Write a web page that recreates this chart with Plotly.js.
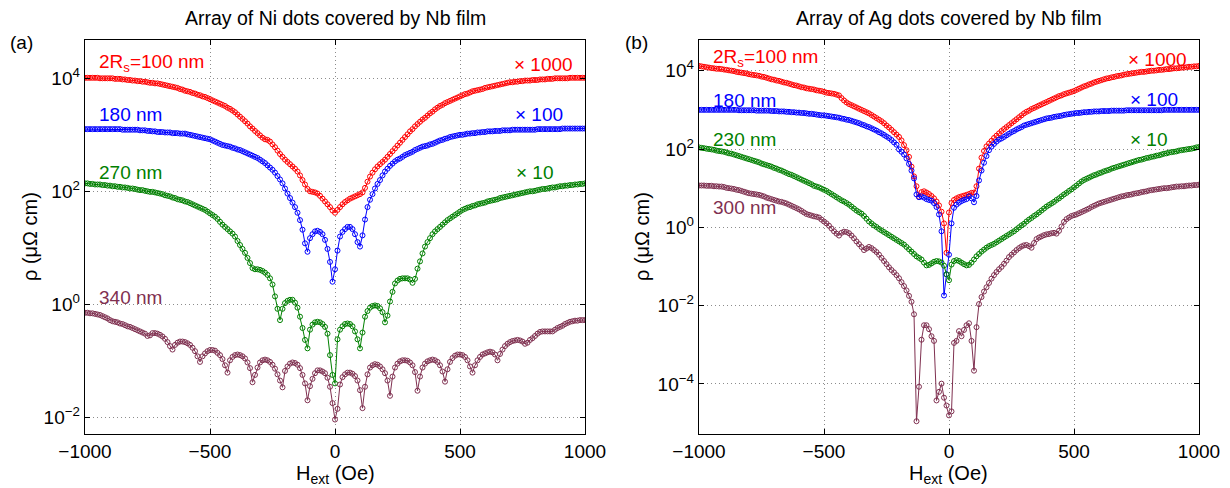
<!DOCTYPE html>
<html><head><meta charset="utf-8">
<script src="https://cdn.plot.ly/plotly-3.0.1.min.js"></script>
<style>html,body{margin:0;padding:0;background:#fff}#chart{width:1230px;height:488px}</style>
</head><body><div id="chart"></div><script>
// Field H_ext (Oe), shared grid of read-off points
const H = [-1000,-990,-980,-970,-960,-950,-940,-930,-920,-910,-900,
-890,-880,-870,-860,-850,-840,-830,-820,-810,-800,
-790,-780,-770,-760,-750,-740,-730,-720,-710,-700,
-690,-680,-670,-660,-650,-640,-630,-620,-610,-600,
-590,-580,-570,-560,-550,-540,-530,-520,-510,-500,
-490,-480,-470,-460,-450,-440,-430,-420,-410,-400,
-390,-380,-370,-360,-350,-340,-330,-320,-310,-300,
-290,-280,-270,-260,-250,-240,-230,-220,-210,-200,
-190,-180,-170,-160,-150,-140,-130,-120,-110,-100,
-90,-80,-70,-60,-50,-40,-30,-20,-10,0,
10,20,30,40,50,60,70,80,90,100,
110,120,130,140,150,160,170,180,190,200,
210,220,230,240,250,260,270,280,290,300,
310,320,330,340,350,360,370,380,390,400,
410,420,430,440,450,460,470,480,490,500,
510,520,530,540,550,560,570,580,590,600,
610,620,630,640,650,660,670,680,690,700,
710,720,730,740,750,760,770,780,790,800,
810,820,830,840,850,860,870,880,890,900,
910,920,930,940,950,960,970,980,990,1000];

// Panel (a): Ni dots, rho (micro-ohm cm), scaled as labelled
const ni100 = [10200,10200,10200,10200,10200,10200,10000,10000,10000,10000,10000,
10000,9770,9770,9770,9550,9550,9330,9330,9120,9120,
8910,8910,8710,8710,8510,8320,8320,8130,8130,7940,
7760,7590,7410,7240,7080,6920,6760,6460,6310,6030,
5890,5750,5500,5370,5130,5010,4790,4680,4470,4270,
4070,3890,3720,3550,3390,3240,3020,2880,2690,2510,
2290,2090,1910,1740,1580,1410,1290,1170,1070,977,
891,832,813,759,676,603,525,457,407,363,
331,302,275,251,224,191,158,132,110,100,
97.7,95.5,91.2,83.2,74.1,66.1,58.9,52.5,45.7,41.7,
46.8,52.5,58.9,64.6,69.2,74.1,77.6,81.3,85.1,89.1,
95.5,115,148,182,214,245,275,302,331,363,
407,457,513,575,646,724,813,912,1020,1150,
1260,1410,1550,1700,1860,2000,2190,2400,2570,2820,
3020,3240,3390,3630,3800,3980,4170,4370,4570,4790,
5010,5250,5370,5620,5890,6030,6170,6310,6460,6760,
6920,7080,7240,7410,7590,7760,7940,8130,8320,8510,
8510,8710,8710,8910,8910,9120,9120,9120,9330,9330,
9330,9550,9550,9550,9770,9770,9770,10000,10000,10000,
10000,10000,10000,10200,10200,10200,10200,10200,10200,10200];

const ni180 = [1260,1260,1260,1260,1260,1260,1260,1260,1260,1260,1260,
1260,1260,1260,1260,1230,1230,1230,1230,1230,1230,
1230,1200,1200,1200,1170,1170,1150,1150,1120,1120,
1120,1100,1100,1100,1070,1070,1070,1050,1050,1050,
1020,1000,977,955,933,912,891,871,851,832,
794,759,724,692,661,646,631,617,589,575,
550,537,513,490,468,447,427,407,389,363,
339,316,288,263,240,214,186,162,138,112,
91.2,75.9,63.1,52.5,41.7,30.9,20.9,12.0,8.51,14.8,
17.4,19.5,20.0,19.1,17.4,13.8,9.55,5.62,2.51,4.17,
8.91,15.8,19.1,21.4,23.4,23.4,21.4,17.4,12.6,10.5,
16.6,31.6,52.5,70.8,89.1,112,135,158,191,224,
251,282,309,339,363,380,407,437,457,479,
501,537,562,589,617,631,646,676,692,724,
759,794,813,851,871,912,933,955,977,1000,
1000,1020,1050,1050,1070,1070,1100,1100,1120,1120,
1150,1150,1150,1170,1170,1170,1200,1200,1200,1200,
1230,1230,1230,1230,1230,1230,1230,1230,1230,1230,
1260,1260,1260,1260,1260,1260,1260,1260,1260,1260,
1290,1290,1290,1290,1290,1290,1290,1290,1290,1290];

const ni270 = [138,138,135,135,132,132,132,129,129,126,126,
123,123,120,120,117,117,115,112,112,110,
107,105,105,102,100,97.7,97.7,95.5,93.3,91.2,
89.1,85.1,83.2,81.3,77.6,75.9,72.4,70.8,69.2,66.1,
64.6,61.7,58.9,56.2,53.7,51.3,49.0,46.8,43.7,40.7,
38.0,35.5,32.4,28.8,25.7,23.4,21.4,19.5,17.8,15.8,
13.2,11.2,9.55,8.13,6.61,5.37,4.37,4.17,4.17,4.07,
3.89,3.63,3.31,2.88,2.24,1.38,0.832,0.525,0.832,1.05,
1.15,1.20,1.20,1.07,0.871,0.603,0.380,0.234,0.166,0.355,
0.437,0.479,0.490,0.479,0.447,0.398,0.302,0.126,0.0562,0.0398,
0.240,0.355,0.407,0.447,0.457,0.447,0.407,0.331,0.240,0.166,
0.316,0.603,0.759,0.871,0.933,0.955,0.933,0.851,0.724,0.479,
0.631,1.12,1.66,2.34,2.63,2.82,2.88,2.88,2.88,2.75,
2.40,2.82,4.27,5.75,7.94,10.5,12.6,14.8,17.4,19.5,
21.4,23.4,25.7,28.2,30.9,33.1,35.5,38.0,40.7,43.7,
46.8,49.0,51.3,52.5,55.0,56.2,58.9,60.3,61.7,63.1,
66.1,67.6,69.2,70.8,72.4,75.9,77.6,79.4,81.3,83.2,
85.1,87.1,89.1,91.2,93.3,95.5,97.7,100,100,102,
105,107,110,110,112,115,117,117,120,123,
123,126,126,129,129,132,132,135,135,138];

const ni340 = [0.708,0.708,0.692,0.692,0.676,0.661,0.646,0.617,0.589,0.562,0.525,
0.501,0.490,0.479,0.457,0.447,0.427,0.407,0.398,0.380,0.363,
0.347,0.331,0.316,0.302,0.275,0.282,0.309,0.309,0.302,0.288,
0.269,0.245,0.214,0.182,0.158,0.191,0.209,0.219,0.219,0.214,
0.204,0.191,0.170,0.148,0.120,0.0955,0.120,0.135,0.148,0.155,
0.155,0.151,0.138,0.126,0.107,0.0832,0.0617,0.102,0.117,0.126,
0.129,0.126,0.120,0.110,0.0933,0.0741,0.0417,0.0562,0.0759,0.0933,
0.102,0.105,0.102,0.0955,0.0851,0.0724,0.0575,0.0447,0.0339,0.0661,
0.0794,0.0891,0.0933,0.0912,0.0851,0.0741,0.0562,0.0398,0.0200,0.0355,
0.0479,0.0603,0.0676,0.0676,0.0646,0.0603,0.0501,0.0347,0.0178,0.00912,
0.0141,0.0380,0.0513,0.0575,0.0617,0.0617,0.0589,0.0537,0.0447,0.0302,
0.0145,0.0347,0.0575,0.0759,0.0832,0.0871,0.0851,0.0794,0.0708,0.0603,
0.0447,0.0240,0.0525,0.0759,0.0891,0.0977,0.102,0.102,0.100,0.0933,
0.0832,0.0631,0.0295,0.0525,0.0759,0.0891,0.0977,0.102,0.105,0.102,
0.0955,0.0832,0.0646,0.0427,0.0708,0.0955,0.112,0.123,0.129,0.129,
0.126,0.117,0.102,0.0794,0.0617,0.0832,0.102,0.117,0.129,0.135,
0.141,0.145,0.141,0.129,0.102,0.132,0.158,0.182,0.200,0.214,
0.224,0.229,0.234,0.229,0.219,0.200,0.209,0.234,0.251,0.275,
0.302,0.324,0.331,0.331,0.331,0.331,0.331,0.355,0.380,0.398,
0.417,0.447,0.468,0.490,0.501,0.513,0.513,0.525,0.525,0.525];

// Panel (b): Ag dots
const ag100 = [13200,12900,12600,12300,12000,11700,11500,11200,11200,11000,10700,
10500,10200,10000,9770,9330,9120,8910,8710,8510,8130,
7940,7760,7590,7410,7080,6920,6610,6310,6030,5890,
5620,5500,5250,5010,4900,4680,4470,4270,4170,3980,
3800,3720,3550,3470,3390,3310,3160,3090,3020,2880,
2750,2690,2630,2570,2450,2340,2000,1740,1550,1410,
1320,1230,1150,1070,1000,933,871,813,741,676,
617,562,513,457,398,355,309,269,234,204,
166,126,93.3,63.1,35.5,20.0,11.2,6.03,7.94,8.32,
7.76,7.08,6.31,5.50,4.57,3.63,2.51,1.26,0.224,2.40,
4.17,5.01,5.50,5.89,6.17,6.46,6.76,7.08,7.59,7.76,
11.2,31.6,60.3,89.1,117,138,162,191,219,251,
288,324,363,407,457,513,575,646,724,813,
891,955,1050,1120,1200,1290,1380,1480,1580,1700,
1820,1950,2090,2240,2340,2510,2630,2750,2880,3020,
3240,3470,3720,3980,4170,4470,4680,5010,5250,5500,
5750,6030,6310,6460,6760,6920,7240,7410,7590,7940,
8130,8320,8510,8710,8910,9120,9330,9330,9550,9770,
10000,10000,10200,10500,10500,10700,11000,11000,11200,11500,
11500,11700,12000,12000,12300,12600,12600,12900,12900,13200];

const ag180 = [1000,1000,1000,1000,1000,1000,1000,1000,1000,1000,1000,
1000,1000,1000,1000,1000,977,977,977,977,977,
977,977,955,955,955,955,955,955,933,933,
933,912,912,912,891,891,871,871,851,851,
832,832,813,794,794,776,759,741,724,724,
708,692,676,661,646,631,603,589,562,550,
525,501,479,457,427,407,380,363,339,316,
295,269,251,229,209,191,170,148,129,97.7,
85.1,72.4,57.5,41.7,28.2,17.8,6.92,5.89,6.17,5.75,
5.25,5.01,4.79,4.17,3.31,2.14,0.794,0.0182,0.0631,0.200,
1.26,3.16,3.80,4.27,4.68,5.01,5.25,6.17,5.50,4.37,
6.31,15.8,28.2,44.7,66.1,93.3,115,135,155,174,
186,204,224,245,269,288,316,339,363,398,
417,437,457,479,501,525,550,575,603,617,
631,661,676,692,708,741,759,776,794,813,
832,832,851,871,871,891,891,912,912,912,
933,933,933,933,955,955,955,955,955,955,
977,977,977,977,977,977,977,977,977,977,
977,977,977,977,977,1000,1000,1000,1000,1000,
1000,1000,1000,1000,1000,1000,1000,1000,1000,1000];

const ag230 = [110,107,105,102,100,97.7,95.5,91.2,89.1,87.1,85.1,
81.3,77.6,75.9,72.4,69.2,66.1,63.1,60.3,57.5,55.0,
52.5,50.1,47.9,45.7,42.7,40.7,38.9,37.2,35.5,33.1,
31.6,29.5,28.2,26.3,24.5,22.9,21.9,20.4,19.1,17.8,
16.6,15.5,14.5,13.5,12.6,11.5,11.0,10.5,9.77,9.12,
8.51,7.76,7.08,6.46,5.89,5.37,4.90,4.57,4.17,3.80,
3.39,3.02,2.69,2.45,2.24,1.95,1.66,1.41,1.26,1.12,
1.02,0.912,0.832,0.759,0.692,0.631,0.575,0.525,0.479,0.437,
0.398,0.363,0.316,0.275,0.240,0.209,0.182,0.166,0.151,0.126,
0.107,0.110,0.120,0.132,0.138,0.135,0.126,0.105,0.0631,0.0447,
0.112,0.138,0.145,0.138,0.126,0.115,0.107,0.110,0.126,0.151,
0.182,0.209,0.240,0.269,0.302,0.331,0.355,0.380,0.417,0.457,
0.501,0.550,0.603,0.661,0.724,0.794,0.891,1.00,1.12,1.23,
1.41,1.58,1.74,1.95,2.14,2.40,2.69,3.02,3.39,3.72,
4.07,4.47,5.01,5.50,6.17,6.92,7.59,8.51,9.33,10.5,
11.7,13.2,14.8,16.2,17.4,18.6,20.0,21.4,22.4,24.0,
25.1,26.9,28.2,29.5,31.6,33.1,34.7,36.3,38.0,39.8,
41.7,43.7,45.7,47.9,50.1,52.5,53.7,56.2,58.9,60.3,
63.1,64.6,67.6,69.2,72.4,75.9,77.6,81.3,83.2,85.1,
87.1,91.2,93.3,95.5,97.7,100,102,105,110,112];

const ag300 = [11.7,11.7,11.7,11.5,11.5,11.5,11.2,11.2,11.0,11.0,10.7,
10.2,10.0,9.77,9.55,9.12,8.91,8.51,8.13,7.76,7.41,
7.24,7.08,6.92,6.76,6.46,6.17,5.75,5.50,5.25,5.01,
4.79,4.57,4.47,4.27,4.07,3.80,3.55,3.31,3.09,2.88,
2.63,2.40,2.19,2.09,2.00,1.91,1.86,1.78,1.58,1.41,
1.26,1.10,0.933,0.794,0.692,0.617,0.724,0.776,0.759,0.708,
0.617,0.525,0.437,0.372,0.316,0.263,0.288,0.316,0.295,0.263,
0.234,0.200,0.166,0.138,0.115,0.0955,0.0813,0.0708,0.0603,0.0501,
0.0398,0.0316,0.0245,0.0178,0.0126,0.00603,0.0000112,0.0000851,0.00135,0.00316,
0.00316,0.00251,0.00166,0.00126,0.000038,0.000063,0.000102,0.0000447,0.0000282,0.0000158,
0.0000200,0.00112,0.00126,0.00224,0.00166,0.00240,0.00316,0.00355,0.00126,0.000219,
0.00282,0.0110,0.0166,0.0229,0.0295,0.0380,0.0490,0.0603,0.0724,0.0851,
0.0977,0.117,0.141,0.174,0.200,0.229,0.263,0.295,0.324,0.347,
0.355,0.331,0.302,0.398,0.501,0.550,0.589,0.631,0.661,0.676,
0.708,0.724,0.692,0.813,1.05,1.38,1.62,1.78,1.95,2.04,
2.14,2.29,2.45,2.63,2.82,3.02,3.31,3.55,3.80,4.07,
4.27,4.47,4.68,4.90,5.13,5.37,5.62,5.89,6.17,6.31,
6.61,6.76,6.92,7.24,7.41,7.59,7.94,8.13,8.32,8.71,
8.91,9.12,9.33,9.55,9.77,10.0,10.0,10.2,10.5,10.7,
11.0,11.0,11.2,11.2,11.5,11.7,11.7,12.0,12.0,12.3];

const colors = ['#ff0000','#0000ff','#008000','#7f3050'];
const niSeries = [ni100, ni180, ni270, ni340];
const agSeries = [ag100, ag180, ag230, ag300];
const niLabels = ['2R<sub>s</sub>=100 nm','180 nm','270 nm','340 nm'];
const agLabels = ['2R<sub>s</sub>=100 nm','180 nm','230 nm','300 nm'];
const factors = ['\u00d7 1000','\u00d7 100','\u00d7 10'];
const titles = ['Array of Ni dots covered by Nb film','Array of Ag dots covered by Nb film'];
const panelTags = ['(a)','(b)'];
const xTicks = [-1000,-500,0,500,1000];
const yTicksA = [0.01,1,100,10000];
const yTextA = ['10<sup>\u22122</sup>','10<sup>0</sup>','10<sup>2</sup>','10<sup>4</sup>'];
const yTicksB = [0.0001,0.01,1,100,10000];
const yTextB = ['10<sup>\u22124</sup>','10<sup>\u22122</sup>','10<sup>0</sup>','10<sup>2</sup>','10<sup>4</sup>'];

const FONT = 'Liberation Sans, Arial, Helvetica, sans-serif';
const traces = [];
function addTraces(series, xa, ya, names){
  series.forEach((y,i)=>{
    traces.push({x:H, y:y, xaxis:xa, yaxis:ya, type:'scatter', mode:'lines+markers',
      name:names[i].replace(/<[^>]+>/g,''), showlegend:false,
      line:{color:colors[i], width:1},
      marker:{symbol:'circle-open', size:5, color:colors[i], line:{width:1, color:colors[i]}}});
  });
}
addTraces(niSeries,'x','y',niLabels);
addTraces(agSeries,'x2','y2',agLabels);

const W=1230, Hh=488;
const px = v=>v/W, py = v=>1-v/Hh;
const GRID = {showgrid:true, gridcolor:'#8c8c8c', griddash:'1px,3px', gridwidth:1};
function axX(domain){
  return Object.assign({domain:domain, range:[-1000,1000], tickvals:xTicks, ticks:'inside', ticklen:5, tickcolor:'#000',
    showline:true, mirror:'ticks', linecolor:'#000', linewidth:1.3, zeroline:false,
    tickfont:{family:FONT, size:19, color:'#000'}}, GRID);
}
function axY(range, tv, tt, anchor){
  return Object.assign({type:'log', domain:[py(434), py(40)], range:range, tickvals:tv, ticktext:tt, anchor:anchor,
    ticks:'inside', ticklen:5, tickcolor:'#000', showline:true, mirror:'ticks', linecolor:'#000', linewidth:1.3,
    zeroline:false, tickfont:{family:FONT, size:19, color:'#000'}}, GRID);
}
const ann = [];
function txt(text, x, y, opts){ ann.push(Object.assign({text:text, x:x, y:y, xref:'paper', yref:'paper', showarrow:false,
  font:{family:FONT, size:19, color:'#000'}, xanchor:'center', yanchor:'middle'}, opts||{})); }

// panel titles, tags, axis titles
txt(titles[0], px(335), py(18), {font:{family:FONT, size:19.5, color:'#000'}});
txt(titles[1], px(949), py(18), {font:{family:FONT, size:19.5, color:'#000'}});
txt(panelTags[0], px(21), py(42));
txt(panelTags[1], px(636), py(42));
txt('H<sub>ext</sub> (Oe)', px(335), py(474), {font:{family:FONT, size:20, color:'#000'}});
txt('H<sub>ext</sub> (Oe)', px(949), py(474), {font:{family:FONT, size:20, color:'#000'}});
txt('\u03c1 (\u03bc\u03a9 cm)', px(30), py(237), {textangle:-90, font:{family:FONT, size:20, color:'#000'}});
txt('\u03c1 (\u03bc\u03a9 cm)', px(642), py(237), {textangle:-90, font:{family:FONT, size:20, color:'#000'}});

// in-plot labels
const niLabY = [63,115,172,297], agLabY = [58,100,139,207];
niLabels.forEach((t,i)=>txt(t, px(97), py(niLabY[i]), {xanchor:'left', font:{family:FONT, size:19, color:colors[i]}}));
agLabels.forEach((t,i)=>txt(t, px(711), py(agLabY[i]), {xanchor:'left', font:{family:FONT, size:19, color:colors[i]}}));
const niFacX=[575,565,556], niFacY=[64,115,172], agFacX=[1189,1180,1170], agFacY=[59,99,139];
factors.forEach((t,i)=>{
  txt(t, px(niFacX[i]), py(niFacY[i]), {xanchor:'right', font:{family:FONT, size:19, color:colors[i]}});
  txt(t, px(agFacX[i]), py(agFacY[i]), {xanchor:'right', font:{family:FONT, size:19, color:colors[i]}});
});

const layout = {
  width:W, height:Hh, margin:{l:0,r:0,t:0,b:0}, paper_bgcolor:'#fff', plot_bgcolor:'#fff',
  showlegend:false, font:{family:FONT, color:'#000'},
  xaxis: Object.assign(axX([px(85), px(585)]), {anchor:'y'}),
  yaxis: axY([-2.296, 4.678], yTicksA, yTextA, 'x'),
  xaxis2: Object.assign(axX([px(699), px(1199)]), {anchor:'y2'}),
  yaxis2: axY([-5.277, 4.784], yTicksB, yTextB, 'x2'),
  annotations: ann
};
Plotly.newPlot('chart', traces, layout, {staticPlot:true, displayModeBar:false});
</script></body></html>
